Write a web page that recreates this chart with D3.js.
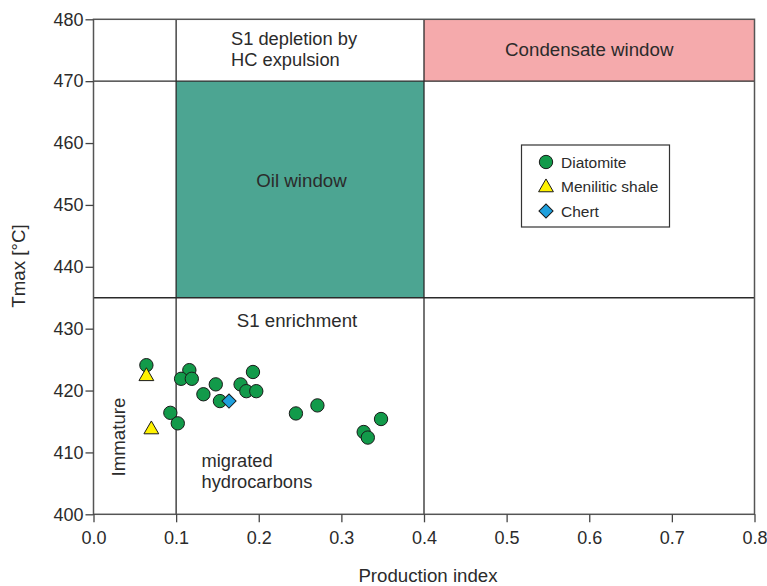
<!DOCTYPE html>
<html>
<head>
<meta charset="utf-8">
<script src="https://cdn.jsdelivr.net/npm/d3@7"></script>
<style>
  body { margin: 0; background: #fff; }
  text { font-family: "Liberation Sans", Arial, sans-serif; fill: #2b2b2b; }
</style>
</head>
<body>
<script>
// data
var diatomitePI   = [0.064, 0.116, 0.106, 0.119, 0.148, 0.133, 0.153, 0.178, 0.193, 0.185, 0.197, 0.093, 0.102, 0.245, 0.271, 0.327, 0.332, 0.348];
var diatomiteTmax = [424.1, 423.3, 421.9, 421.9, 421.0, 419.4, 418.3, 421.0, 423.0, 419.9, 419.9, 416.4, 414.7, 416.3, 417.6, 413.3, 412.4, 415.4];
var shalePI   = [0.064, 0.070];
var shaleTmax = [422.3, 413.7];
var chertPI   = [0.164];
var chertTmax = [418.3];
var xTicks = [0, 0.1, 0.2, 0.3, 0.4, 0.5, 0.6, 0.7, 0.8];
var yTicks = [400, 410, 420, 430, 440, 450, 460, 470, 480];
var legendLabels = ["Diatomite", "Menilitic shale", "Chert"];

var width = 767, height = 586;

var x = d3.scaleLinear().domain([0, 0.8]).range([93.5, 754.5]);
var y = d3.scaleLinear().domain([400, 480]).range([514.3, 19.3]);

var svg = d3.select("body")
  .append("svg")
  .attr("width", width)
  .attr("height", height);

// zones
svg.append("rect")
  .attr("x", x(0.1)).attr("y", y(470))
  .attr("width", x(0.4) - x(0.1)).attr("height", y(435) - y(470))
  .attr("fill", "#4ca592");
svg.append("rect")
  .attr("x", x(0.4)).attr("y", y(480))
  .attr("width", x(0.8) - x(0.4)).attr("height", y(470) - y(480))
  .attr("fill", "#f5aaac");

// dividing lines
var lines = svg.append("g").attr("stroke", "#2a2a2a").attr("stroke-width", 1.3);
lines.append("line").attr("x1", x(0)).attr("x2", x(0.8)).attr("y1", y(470)).attr("y2", y(470));
lines.append("line").attr("x1", x(0)).attr("x2", x(0.8)).attr("y1", y(435)).attr("y2", y(435));
lines.append("line").attr("x1", x(0.1)).attr("x2", x(0.1)).attr("y1", y(400)).attr("y2", y(480));
lines.append("line").attr("x1", x(0.4)).attr("x2", x(0.4)).attr("y1", y(400)).attr("y2", y(480));

// frame
svg.append("rect")
  .attr("x", x(0)).attr("y", y(480))
  .attr("width", x(0.8) - x(0)).attr("height", y(400) - y(480))
  .attr("fill", "none").attr("stroke", "#555").attr("stroke-width", 1.5);

// axes
var xAxis = svg.append("g")
  .attr("transform", "translate(0," + y(400) + ")")
  .call(d3.axisBottom(x).tickValues(xTicks).tickFormat(d3.format(".1f")).tickSize(8).tickPadding(9));
var yAxis = svg.append("g")
  .attr("transform", "translate(" + x(0) + ",0)")
  .call(d3.axisLeft(y).tickValues(yTicks).tickSize(8).tickPadding(2));
[xAxis, yAxis].forEach(function(g) {
  g.select(".domain").remove();
  g.selectAll(".tick line").attr("stroke", "#444").attr("stroke-width", 1.3);
  g.selectAll(".tick text").style("font-size", "18px").attr("fill", "#2b2b2b")
    .style("font-family", "'Liberation Sans', Arial, sans-serif");
});

// axis titles
svg.append("text")
  .attr("x", 428).attr("y", 582)
  .attr("text-anchor", "middle")
  .style("font-size", "18.7px")
  .text("Production index");
svg.append("text")
  .attr("transform", "translate(25,266) rotate(-90)")
  .attr("text-anchor", "middle")
  .style("font-size", "18.7px")
  .text("Tmax [°C]");

// zone labels
function label(txts, px, py, anchor, size) {
  txts.forEach(function(s, i) {
    svg.append("text").attr("x", px).attr("y", py + i * 20.8)
      .attr("text-anchor", anchor || "start")
      .style("font-size", (size || 18.7) + "px")
      .text(s);
  });
}
label(["S1 depletion by", "HC expulsion"], 231, 45, "start", 18.3);
label(["Condensate window"], (x(0.4) + x(0.8)) / 2, 56, "middle");
label(["Oil window"], 301.5, 186.5, "middle");
label(["S1 enrichment"], 297, 326.5, "middle");
label(["migrated", "hydrocarbons"], 201.5, 467, "start", 18.3);
svg.append("text")
  .attr("transform", "translate(125,437) rotate(-90)")
  .attr("text-anchor", "middle")
  .style("font-size", "18.7px")
  .text("Immature");

// markers
var circleSym = d3.symbol().type(d3.symbolCircle).size(140);
var triSym = d3.symbol().type(d3.symbolTriangle).size(95);
var diaSym = d3.symbol().type(d3.symbolSquare).size(100);

svg.append("g").selectAll("path")
  .data(diatomitePI)
  .enter()
  .append("path")
  .attr("d", circleSym)
  .attr("transform", function(d, i) { return "translate(" + x(d) + "," + y(diatomiteTmax[i]) + ")"; })
  .attr("fill", "#129a4a").attr("stroke", "#1a1a1a").attr("stroke-width", 1);

svg.append("g").selectAll("path")
  .data(shalePI)
  .enter()
  .append("path")
  .attr("d", triSym)
  .attr("transform", function(d, i) { return "translate(" + x(d) + "," + y(shaleTmax[i]) + ")"; })
  .attr("fill", "#fff200").attr("stroke", "#1a1a1a").attr("stroke-width", 1);

svg.append("g").selectAll("path")
  .data(chertPI)
  .enter()
  .append("path")
  .attr("d", diaSym)
  .attr("transform", function(d, i) { return "translate(" + x(d) + "," + y(chertTmax[i]) + ") rotate(45)"; })
  .attr("fill", "#1fa0dd").attr("stroke", "#1a1a1a").attr("stroke-width", 1);

// legend
var legend = svg.append("g");
legend.append("rect")
  .attr("x", 521.5).attr("y", 145)
  .attr("width", 148).attr("height", 82)
  .attr("fill", "#fff").attr("stroke", "#333").attr("stroke-width", 1.2);
var syms = [circleSym, triSym, diaSym];
var fills = ["#129a4a", "#fff200", "#1fa0dd"];
legendLabels.forEach(function(l, i) {
  var ly = 162 + i * 24.5;
  legend.append("path")
    .attr("d", syms[i])
    .attr("transform", "translate(546," + (ly + (i === 1 ? 1 : 0)) + ")" + (i === 2 ? " rotate(45)" : ""))
    .attr("fill", fills[i]).attr("stroke", "#1a1a1a").attr("stroke-width", 1);
  legend.append("text")
    .attr("x", 561).attr("y", ly + 5.5)
    .style("font-size", "15.5px")
    .text(l);
});
</script>
</body>
</html>
